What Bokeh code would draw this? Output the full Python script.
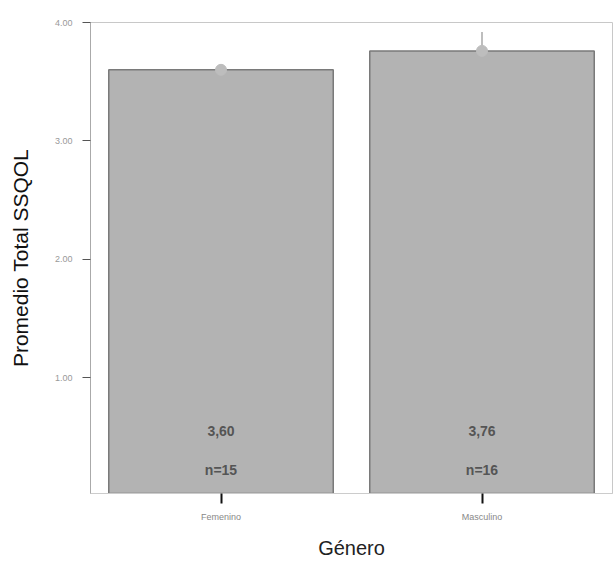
from bokeh.plotting import figure
from bokeh.models import ColumnDataSource, Range1d, FixedTicker, Whisker, CustomJSTickFormatter
from bokeh.core.properties import value
from bokeh.embed import file_html
from bokeh.resources import INLINE

categories = ["Femenino", "Masculino"]
means = [3.60, 3.76]
upper = [3.63, 3.92]
mean_labels = ["3,60", "3,76"]
n_labels = ["n=15", "n=16"]
y_ticks = [1.0, 2.0, 3.0, 4.0]

src = ColumnDataSource(dict(cat=categories, mean=means, upper=upper,
                            ml=mean_labels, nl=n_labels,
                            ml_y=[0.55] * 2, nl_y=[0.22] * 2))

p = figure(width=613, height=563, x_range=categories, y_range=Range1d(0.02, 4.0),
           output_backend="svg", toolbar_location=None,
           min_border_left=90, min_border_right=1, min_border_top=22, min_border_bottom=70)
p.background_fill_color = "white"
p.border_fill_color = "white"
p.outline_line_color = "#c8c8c8"
p.xgrid.visible = False
p.ygrid.visible = False
p.x_range.range_padding = 0.0

p.vbar(x="cat", top="mean", bottom=0, width=0.86, source=src,
       fill_color="#b3b3b3", line_color="#7a7a7a", line_width=1.5)

w = Whisker(source=src, base="cat", upper="upper", lower="mean",
            line_color="#a8a8a8", line_width=1.5)
w.upper_head.size = 0
w.lower_head.size = 0
p.add_layout(w)
p.scatter(x="cat", y="mean", source=src, size=11, fill_color="#bdbdbd", line_color="#bdbdbd")

p.text(x="cat", y="ml_y", text="ml", source=src, text_align="center", text_baseline="middle",
       text_font=value("Liberation Sans"), text_font_style="bold", text_font_size="14px",
       text_color="#555555")
p.text(x="cat", y="nl_y", text="nl", source=src, text_align="center", text_baseline="middle",
       text_font=value("Liberation Sans"), text_font_style="bold", text_font_size="14px",
       text_color="#555555")

p.yaxis.ticker = FixedTicker(ticks=y_ticks)
p.yaxis.formatter = CustomJSTickFormatter(code="return tick.toFixed(2);")
p.yaxis.axis_label = "Promedio Total SSQOL"
p.yaxis.axis_label_text_font = "Liberation Sans"
p.yaxis.axis_label_text_font_style = "normal"
p.yaxis.axis_label_text_font_size = "21px"
p.yaxis.axis_label_text_color = "#111111"
p.yaxis.axis_label_standoff = 20
p.yaxis.major_label_text_font_size = "9px"
p.yaxis.major_label_text_color = "#999999"
p.yaxis.major_label_standoff = 10
p.yaxis.axis_line_color = "#aaaaaa"
p.yaxis.major_tick_line_color = "#555555"
p.yaxis.major_tick_out = 8
p.yaxis.major_tick_in = 0
p.yaxis.minor_tick_line_color = None

p.xaxis.axis_label = "Género"
p.xaxis.axis_label_text_font = "Liberation Sans"
p.xaxis.axis_label_text_font_style = "normal"
p.xaxis.axis_label_text_font_size = "20px"
p.xaxis.axis_label_text_color = "#222222"
p.xaxis.axis_label_standoff = 12
p.xaxis.major_label_text_font_size = "9px"
p.xaxis.major_label_text_color = "#888888"
p.xaxis.major_label_standoff = 8
p.xaxis.axis_line_color = "#cccccc"
p.xaxis.major_tick_line_color = "#111111"
p.xaxis.major_tick_line_width = 2
p.xaxis.major_tick_out = 10
p.xaxis.major_tick_in = 0

open("out.html", "w").write(file_html(p, INLINE))
